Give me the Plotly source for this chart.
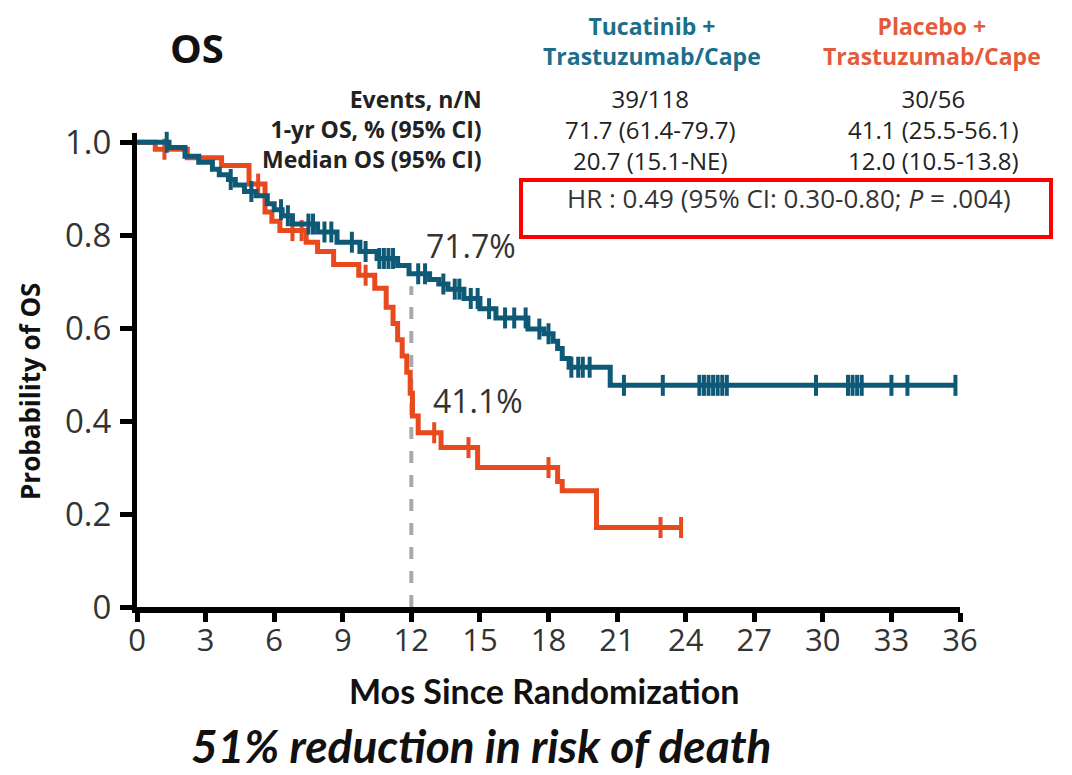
import plotly.graph_objects as go

# ---------------- data ----------------
tuc_t = [0, 1.4, 2.1, 2.7, 3.3, 3.6, 4.0, 4.3, 4.7, 5.2, 5.7, 6.0, 6.35, 6.8, 7.9, 8.75,
         9.75, 10.5, 11.4, 11.9, 12.8, 13.2, 13.6, 14.3, 15.0, 15.7, 17.1, 17.8, 18.2,
         18.4, 18.6, 18.9, 20.7]
tuc_s = [1.0, 0.989, 0.97, 0.957, 0.942, 0.93, 0.92, 0.908, 0.894, 0.885, 0.868, 0.855,
         0.842, 0.824, 0.807, 0.785, 0.765, 0.75, 0.735, 0.717, 0.705, 0.695, 0.684,
         0.664, 0.642, 0.622, 0.598, 0.588, 0.572, 0.556, 0.535, 0.516, 0.477]
tuc_end = 35.8
tuc_cens = [1.3, 4.1, 5.0, 6.3, 6.6, 7.5, 7.7, 8.2, 8.5, 9.4, 10.0, 10.6, 10.8, 11.0, 11.2,
            12.3, 12.6, 13.4, 13.9, 14.1, 14.6, 14.9, 15.4, 16.1, 16.5, 17.0, 17.6, 18.0,
            19.0, 19.3, 19.5, 19.8, 21.3, 23.0, 24.6, 24.8, 25.0, 25.2, 25.4, 25.6, 25.8,
            29.7, 31.1, 31.3, 31.5, 31.7, 33.0, 33.7, 35.8]

plc_t = [0, 0.8, 2.2, 3.7, 4.9, 5.6, 5.9, 6.25, 7.4, 7.9, 8.6, 9.7, 10.4, 10.9, 11.2,
         11.4, 11.6, 11.8, 11.95, 12.05, 12.3, 13.3, 14.9, 18.4, 18.6, 20.1]
plc_s = [1.0, 0.985, 0.967, 0.95, 0.91, 0.85, 0.83, 0.81, 0.785, 0.765, 0.737, 0.714,
         0.686, 0.645, 0.61, 0.575, 0.54, 0.505, 0.46, 0.411, 0.375, 0.343, 0.30, 0.27,
         0.25, 0.171]
plc_end = 23.8
plc_cens = [1.2, 5.3, 6.8, 7.2, 10.0, 13.0, 14.5, 18.0, 22.9, 23.8]

x_ticks = [0, 3, 6, 9, 12, 15, 18, 21, 24, 27, 30, 33, 36]
y_ticks = [0, 0.2, 0.4, 0.6, 0.8, 1.0]
y_ticktext = ["0", "0.2", "0.4", "0.6", "0.8", "1.0"]

arm_names = ["Tucatinib +<br>Trastuzumab/Cape", "Placebo +<br>Trastuzumab/Cape"]
row_labels = ["Events, n/N", "1-yr OS, % (95% CI)", "Median OS (95% CI)"]
tuc_vals = ["39/118", "71.7 (61.4-79.7)", "20.7 (15.1-NE)"]
plc_vals = ["30/56", "41.1 (25.5-56.1)", "12.0 (10.5-13.8)"]
landmark_month = 12
tuc_1yr = 71.7
plc_1yr = 41.1

TEAL = "#0E5A76"
RED = "#E8491D"


def surv_at(ts, ss, t):
    s = ss[0]
    for ti, si in zip(ts, ss):
        if ti <= t:
            s = si
    return s


def step_xy(ts, ss, end):
    return ts + [end], ss + [ss[-1]]


# layout geometry (screen pixels; the page body adds an 8px margin)
OFF = 8
W, H = 1072 - OFF, 775 - OFF
SL, SR, ST, SB = 137, 960, 133, 607
L, R, T, B = SL - OFF, SR - OFF, ST - OFF, SB - OFF


def px(x):
    return (x - SL) / (SR - SL)


def py(y):
    return (SB - y) / (SB - ST)


fig = go.Figure()

for ts, ss, end, cens, col, nm in [
    (plc_t, plc_s, plc_end, plc_cens, RED, "Placebo"),
    (tuc_t, tuc_s, tuc_end, tuc_cens, TEAL, "Tucatinib"),
]:
    xs, ys = step_xy(ts, ss, end)
    fig.add_trace(go.Scatter(x=xs, y=ys, mode="lines", line=dict(color=col, width=5, shape="hv"),
                             name=nm, showlegend=False, hoverinfo="skip"))
    fig.add_trace(go.Scatter(x=cens, y=[surv_at(ts, ss, c) for c in cens], mode="markers",
                             marker=dict(symbol="line-ns", size=15, line=dict(color=col, width=4)),
                             showlegend=False, hoverinfo="skip", cliponaxis=False))

fig.add_shape(type="line", x0=landmark_month, x1=landmark_month, y0=0, y1=0.69,
              xref="x", yref="y", line=dict(color="#A9A9A9", width=4, dash="dash"), layer="below")

fig.add_shape(type="rect", xref="paper", yref="paper", x0=px(521), x1=px(1051), y0=py(237), y1=py(180),
              line=dict(color="#FF0000", width=4))

ann = []
FONT = "Open Sans"
ann.append(dict(x=px(197), y=py(47), text="<b>OS</b>", font=dict(size=40, color="#111", family=FONT)))
ann.append(dict(x=px(484), y=py(129), text="<br>".join("<b>" + s + "</b>" for s in row_labels),
                xanchor="right", align="right", font=dict(size=23, color="#222", family=FONT)))
ann.append(dict(x=px(650), y=py(129), text="<br>".join(tuc_vals),
                font=dict(size=24, color="#222", family=FONT)))
ann.append(dict(x=px(933), y=py(129), text="<br>".join(plc_vals),
                font=dict(size=24, color="#222", family=FONT)))
ann.append(dict(x=px(652), y=py(41), text="<b>" + arm_names[0] + "</b>",
                font=dict(size=23, color="#1C6E8A", family=FONT)))
ann.append(dict(x=px(932), y=py(41), text="<b>" + arm_names[1] + "</b>",
                font=dict(size=23, color="#E35B3B", family=FONT)))
ann.append(dict(x=px(789), y=py(198), text="HR : 0.49 (95% CI: 0.30-0.80; <i>P</i> = .004)",
                font=dict(size=26, color="#333", family=FONT)))
ann.append(dict(x=px(424), y=py(245), xanchor="left",
                text=f"{tuc_1yr}%", font=dict(size=32, color="#333", family=FONT)))
ann.append(dict(x=px(431), y=py(400), xanchor="left",
                text=f"{plc_1yr}%", font=dict(size=32, color="#333", family=FONT)))
ann.append(dict(x=px(481), y=py(745), text="<b><i>51% reduction in risk of death</i></b>",
                font=dict(size=46, color="#111", family="Lato")))
ann.append(dict(x=px(544), y=py(690), text="<b>Mos Since Randomization</b>",
                font=dict(size=34, color="#111", family="Lato")))
ann.append(dict(x=px(30), y=py(392), text="<b>Probability of OS</b>", textangle=-90,
                font=dict(size=26, color="#111", family=FONT)))

for a in ann:
    a.setdefault("xref", "paper")
    a.setdefault("yref", "paper")
    a.setdefault("xanchor", "center")
    a.setdefault("yanchor", "middle")
    a["showarrow"] = False
    fig.add_annotation(**a)

fig.update_layout(
    width=W, height=H,
    margin=dict(l=L, r=W - R, t=T, b=H - B, pad=0),
    paper_bgcolor="white", plot_bgcolor="white",
    xaxis=dict(range=[0, 36], tickmode="array", tickvals=x_ticks, showgrid=False, zeroline=False,
               showline=True, linewidth=6, linecolor="black", ticks="outside", ticklen=9,
               tickwidth=5, tickcolor="black", tickfont=dict(size=31, color="#333", family=FONT),
               ticklabelstandoff=-8),
    yaxis=dict(range=[0, 1.02], tickmode="array", tickvals=y_ticks, ticktext=y_ticktext, showgrid=False,
               zeroline=False, showline=True, linewidth=5, linecolor="black", ticks="outside", ticklen=12,
               tickwidth=5, tickcolor="black", tickfont=dict(size=33, color="#333", family=FONT),
               ticklabelstandoff=2),
)

fig.write_html("out.html")
